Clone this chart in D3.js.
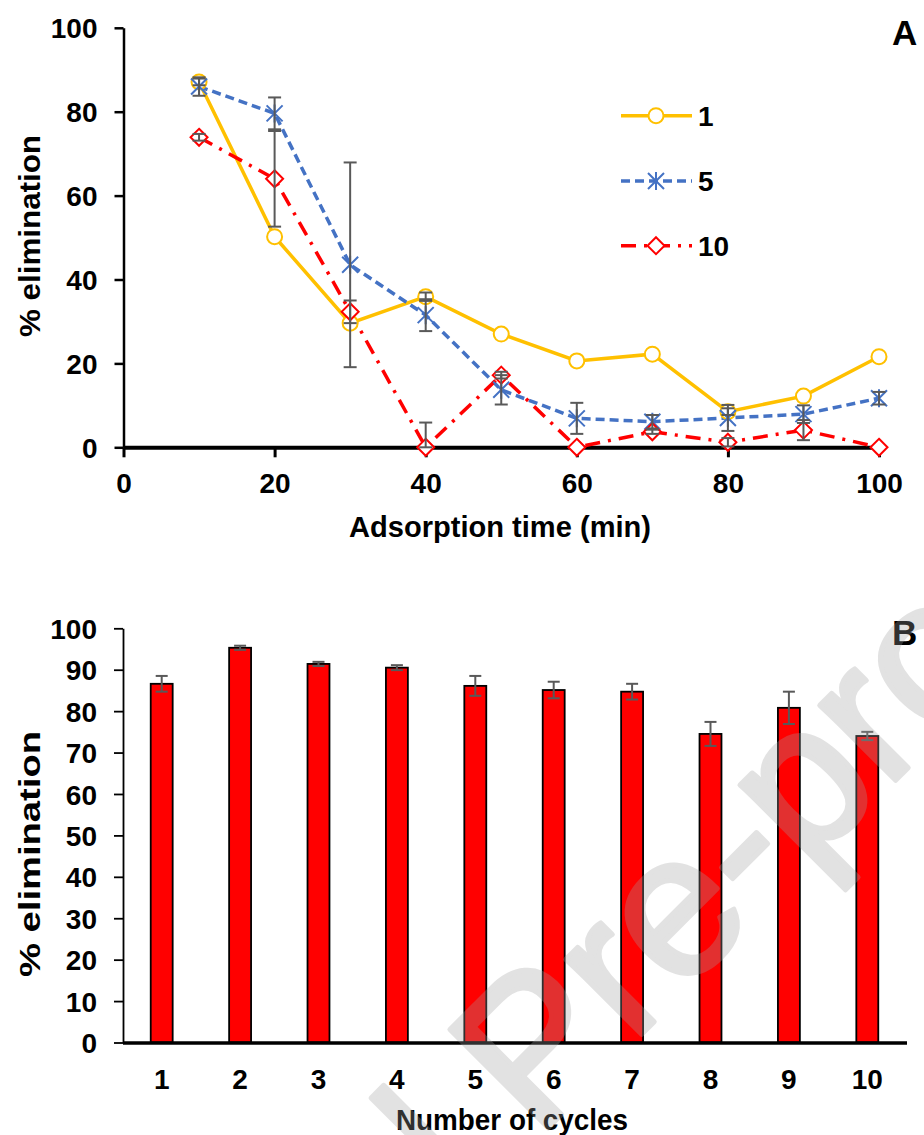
<!DOCTYPE html>
<html>
<head>
<meta charset="utf-8">
<script src="https://cdn.jsdelivr.net/npm/d3@7"></script>
<style>
  body { margin: 0; background: #fff; }
  svg text { font-family: "Liberation Sans", Arial, sans-serif; font-weight: bold; }
</style>
</head>
<body>
<svg id="chart" width="924" height="1135"></svg>
<script>
// Panel A: adsorption time (min) vs % elimination for cycles 1, 5, 10
const times = [10, 20, 30, 40, 50, 60, 70, 80, 90, 100];
const cycle1 = [87.1, 50.2, 29.6, 35.9, 27.0, 20.6, 22.2, 8.5, 12.2, 21.6];
const cycle1Err = [0.8, 0, 0, 1.0, 0, 0, 0, 0.8, 0, 0];
const cycle5 = [86.0, 79.6, 43.5, 31.5, 13.7, 6.9, 6.1, 7.0, 7.9, 11.7];
const cycle5Err = [2.2, 3.8, 24.4, 3.8, 3.5, 3.7, 1.6, 3.1, 2.1, 1.5];
const cycle10 = [73.9, 64.0, 32.3, 0, 17.2, 0, 3.7, 1.2, 4.1, 0];
const cycle10Err = [0.8, 11.4, 2.7, 5.9, 0.8, 0, 0.5, 1.0, 2.4, 0];
const seriesNames = ["1", "5", "10"];
const xTicksA = [0, 20, 40, 60, 80, 100];
const yTicksA = [0, 20, 40, 60, 80, 100];

// Panel B: reuse cycles
const cycles = ["1", "2", "3", "4", "5", "6", "7", "8", "9", "10"];
const elimination = [86.6, 95.3, 91.4, 90.5, 86.1, 85.1, 84.7, 74.5, 80.8, 74.0];
const eliminationErr = [1.9, 0.5, 0.5, 0.6, 2.4, 2.0, 1.9, 2.9, 3.9, 1.0];
const yTicksB = [0, 10, 20, 30, 40, 50, 60, 70, 80, 90, 100];

const svg = d3.select("#chart");
const errColor = "#595959";

const series = [
  { name: seriesNames[0], values: cycle1, err: cycle1Err, color: "#FFC000", dash: null, marker: "circle", width: 3.5 },
  { name: seriesNames[1], values: cycle5, err: cycle5Err, color: "#4472C4", dash: "9,5", marker: "star", width: 3.5 },
  { name: seriesNames[2], values: cycle10, err: cycle10Err, color: "#FF0000", dash: "15,8,3,8", marker: "diamond", width: 3.5 }
];

function drawMarker(g, type, x, y, color) {
  if (type === "circle") {
    g.append("circle").attr("cx", x).attr("cy", y).attr("r", 7.5)
      .attr("fill", "#fff").attr("stroke", color).attr("stroke-width", 2);
  } else if (type === "star") {
    const s = 8;
    g.append("path")
      .attr("d", `M${x - s},${y - s}L${x + s},${y + s}M${x - s},${y + s}L${x + s},${y - s}M${x},${y - s - 1}L${x},${y + s + 1}`)
      .attr("stroke", color).attr("stroke-width", 2).attr("fill", "none");
  } else {
    const s = 8.5;
    g.append("path")
      .attr("d", `M${x},${y - s}L${x + s},${y}L${x},${y + s}L${x - s},${y}Z`)
      .attr("fill", "#fff").attr("stroke", color).attr("stroke-width", 2);
  }
}

function errorBar(g, x, y0, y1, cap) {
  g.append("line").attr("x1", x).attr("x2", x).attr("y1", y0).attr("y2", y1);
  g.append("line").attr("x1", x - cap).attr("x2", x + cap).attr("y1", y0).attr("y2", y0);
  g.append("line").attr("x1", x - cap).attr("x2", x + cap).attr("y1", y1).attr("y2", y1);
}

// ---------- Panel A ----------
const xA = d3.scaleLinear().domain([0, 100]).range([123.5, 879]);
const yA = d3.scaleLinear().domain([0, 100]).range([447.3, 27.8]);

const axYA = svg.append("g").attr("transform", `translate(${xA(0)},0)`)
  .call(d3.axisLeft(yA).tickValues(yTicksA).tickSize(9).tickSizeOuter(0));
axYA.select(".domain").attr("stroke", "#000").attr("stroke-width", 2.5);
axYA.selectAll(".tick line").attr("stroke", "#000").attr("stroke-width", 2.5);
axYA.selectAll(".tick text").attr("x", -26).attr("dy", "0.36em")
  .attr("font-size", 28).attr("fill", "#000");

const axXA = svg.append("g").attr("transform", `translate(0,${yA(0)})`)
  .call(d3.axisBottom(xA).tickValues(xTicksA).tickSize(10).tickSizeOuter(0));
axXA.select(".domain").attr("stroke", "#000").attr("stroke-width", 4);
axXA.selectAll(".tick line").attr("stroke", "#000").attr("stroke-width", 3);
axXA.selectAll(".tick text").attr("y", 36).attr("dy", "0.36em")
  .attr("font-size", 28).attr("fill", "#000");

const lineA = d3.line().x((d, i) => xA(times[i])).y(d => yA(d));
const plotA = svg.append("g");
series.forEach(s => {
  plotA.append("path").datum(s.values).attr("d", lineA)
    .attr("fill", "none").attr("stroke", s.color).attr("stroke-width", s.width)
    .attr("stroke-dasharray", s.dash);
});
series.forEach(s => {
  s.values.forEach((v, i) => drawMarker(plotA, s.marker, xA(times[i]), yA(v), s.color));
});
const errA = plotA.append("g").attr("stroke", errColor).attr("stroke-width", 2);
series.forEach(s => {
  s.values.forEach((v, i) => {
    if (s.err[i] > 0) errorBar(errA, xA(times[i]), yA(v + s.err[i]), yA(Math.max(0, v - s.err[i])), 6.5);
  });
});

// legend
const legend = svg.append("g");
series.forEach((s, i) => {
  const ly = [115.7, 181, 245.7][i];
  legend.append("line").attr("x1", 621).attr("x2", 692).attr("y1", ly).attr("y2", ly)
    .attr("stroke", s.color).attr("stroke-width", s.width).attr("stroke-dasharray", s.dash);
  drawMarker(legend, s.marker, 656, ly, s.color);
  legend.append("text").attr("x", 698).attr("y", ly).attr("dy", "0.36em")
    .attr("font-size", 28).text(s.name);
});

svg.append("text").attr("x", 500).attr("y", 527).attr("dy", "0.36em")
  .attr("text-anchor", "middle").attr("font-size", 29)
  .attr("textLength", 302).attr("lengthAdjust", "spacingAndGlyphs")
  .text("Adsorption time (min)");
svg.append("text").attr("transform", "translate(30,236) rotate(-90)").attr("dy", "0.36em")
  .attr("text-anchor", "middle").attr("font-size", 29)
  .attr("textLength", 202).attr("lengthAdjust", "spacingAndGlyphs")
  .text("% elimination");
svg.append("text").attr("x", 892).attr("y", 45).attr("font-size", 35).text("A");

// ---------- Panel B ----------
const xB = d3.scaleBand().domain(cycles).range([122.5, 906.5]).paddingInner(0.72).paddingOuter(0.36);
const yB = d3.scaleLinear().domain([0, 100]).range([1042.5, 628.3]);

const axYB = svg.append("g").attr("transform", "translate(123,0)")
  .call(d3.axisLeft(yB).tickValues(yTicksB).tickSize(9).tickSizeOuter(0));
axYB.select(".domain").attr("stroke", "#000").attr("stroke-width", 1.8);
axYB.selectAll(".tick line").attr("stroke", "#000").attr("stroke-width", 1.8);
axYB.selectAll(".tick text").attr("x", -26).attr("dy", "0.36em")
  .attr("font-size", 28).attr("fill", "#000");

svg.append("g").selectAll("rect").data(elimination).join("rect")
  .attr("x", (d, i) => xB(cycles[i]))
  .attr("y", d => yB(d))
  .attr("width", xB.bandwidth())
  .attr("height", d => yB(0) - yB(d))
  .attr("fill", "#FF0000").attr("stroke", "#000").attr("stroke-width", 1.8);

const errB = svg.append("g").attr("stroke", errColor).attr("stroke-width", 2);
elimination.forEach((v, i) => {
  const cx = xB(cycles[i]) + xB.bandwidth() / 2;
  errorBar(errB, cx, yB(v + eliminationErr[i]), yB(v - eliminationErr[i]), 6);
});

const axXB = svg.append("g").attr("transform", `translate(0,${yB(0)})`)
  .call(d3.axisBottom(xB).tickSize(0).tickSizeOuter(0));
axXB.select(".domain").attr("stroke", "#000").attr("stroke-width", 3.5);
axXB.selectAll(".tick text").attr("y", 36).attr("dy", "0.36em")
  .attr("font-size", 28).attr("fill", "#000");

svg.append("text").attr("x", 512).attr("y", 1120).attr("dy", "0.36em")
  .attr("text-anchor", "middle").attr("font-size", 29)
  .attr("textLength", 232).attr("lengthAdjust", "spacingAndGlyphs")
  .text("Number of cycles");
svg.append("text").attr("transform", "translate(30,854) rotate(-90)").attr("dy", "0.36em")
  .attr("text-anchor", "middle").attr("font-size", 29)
  .attr("textLength", 246).attr("lengthAdjust", "spacingAndGlyphs")
  .text("% elimination");
svg.append("text").attr("x", 892).attr("y", 645).attr("font-size", 35).text("B");

// watermark (group opacity so fill and stroke blend once)
svg.append("g").attr("opacity", 0.3)
  .append("text").attr("transform", "translate(580,1096) rotate(-45)")
  .attr("text-anchor", "middle").attr("font-size", 202)
  .style("font-weight", "normal")
  .attr("fill", "#a0a0a0").attr("stroke", "#a0a0a0").attr("stroke-width", 5)
  .attr("stroke-linejoin", "round")
  .text("Journal Pre-proof");
</script>
</body>
</html>
